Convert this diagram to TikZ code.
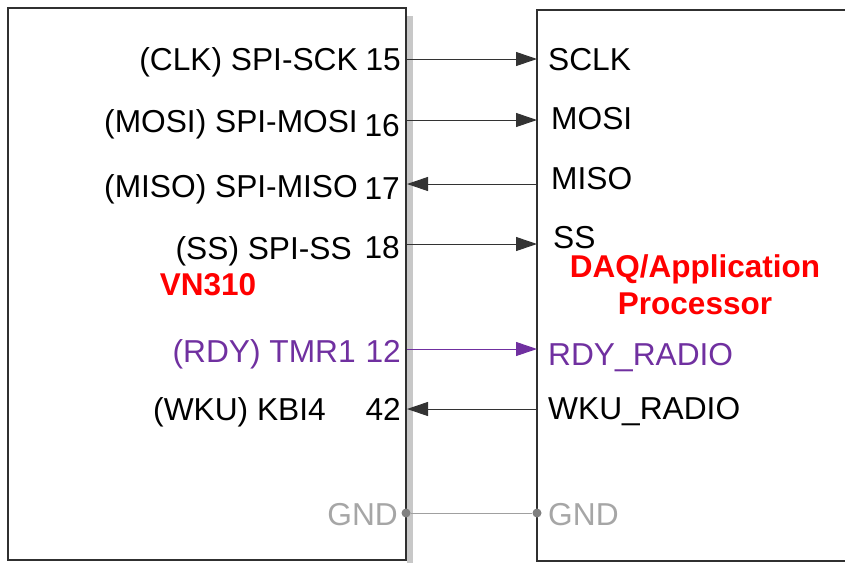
\documentclass[tikz,border=0pt]{standalone}
\usepackage{fontspec}
\setmainfont{Liberation Sans}
\usetikzlibrary{arrows.meta}
\definecolor{pur}{HTML}{7030A0}
\definecolor{redt}{HTML}{FF0000}
\definecolor{gndtxt}{HTML}{A6A6A6}
\definecolor{gndline}{HTML}{A0A0A0}
\definecolor{gnddot}{HTML}{808080}
\definecolor{shadowc}{HTML}{C8C8C8}
\definecolor{boxc}{HTML}{303030}
\definecolor{connc}{HTML}{333333}
\begin{document}
\begin{tikzpicture}[x=1pt,y=-1pt,
  lbl/.style={inner sep=0pt,font=\fontsize{31.7}{36}\selectfont,text height=22.5pt,text depth=0pt},
  ttl/.style={inner sep=0pt,font=\fontsize{31.5}{37}\selectfont\bfseries,text=redt,align=center},
  boxline/.style={draw=boxc,line width=1.4pt},
  edgefill/.style={fill=boxc},
  conn/.style={draw=connc,line width=1pt},
  tipr/.style={-{Triangle[length=21pt,width=14pt]}},
  tipl/.style={{Triangle[length=21pt,width=14pt]}-},
  dot/.style={circle,fill=gnddot,inner sep=0pt,minimum size=9pt}]
\useasboundingbox (0,0) rectangle (845,563);
% shadow and boxes
\fill[shadowc] (407,16) rectangle (413,563);
\draw[boxline] (8,8) rectangle (406,560);
\fill[edgefill] (536.3,9.3) rectangle (845,10.7);
\fill[edgefill] (536.3,9.3) rectangle (537.7,561.7);
\fill[edgefill] (536.3,560.3) rectangle (845,561.7);
% left labels
\node[lbl,anchor=east] (n1) at (358,59) {(CLK) SPI-SCK};
\node[lbl,anchor=east] (p1) at (401,59) {15};
\node[lbl,anchor=east] (n2) at (358,121) {(MOSI) SPI-MOSI};
\node[lbl,anchor=east] (p2) at (400,125) {16};
\node[lbl,anchor=east] (n3) at (358,186) {(MISO) SPI-MISO};
\node[lbl,anchor=east] (p3) at (400,188) {17};
\node[lbl,anchor=east] (n4) at (352,248) {(SS) SPI-SS};
\node[lbl,anchor=east] (p4) at (400,247) {18};
\node[lbl,anchor=east,text=pur] (n5) at (356,351) {(RDY) TMR1};
\node[lbl,anchor=east,text=pur] (p5) at (401,351) {12};
\node[lbl,anchor=east] (n6) at (326,409) {(WKU) KBI4};
\node[lbl,anchor=east] (p6) at (401,409) {42};
\node[lbl,anchor=east,text=gndtxt] (g1) at (398,514) {GND};
\node[ttl] (vn) at (208,285) {VN310};
% right labels
\node[lbl,anchor=west] (s1) at (548,59) {SCLK};
\node[lbl,anchor=west] (s2) at (551,118) {MOSI};
\node[lbl,anchor=west] (s3) at (551,178) {MISO};
\node[lbl,anchor=west] (s4) at (553,237) {SS};
\node[lbl,anchor=west,text=pur] (s5) at (548,354) {RDY\_RADIO};
\node[lbl,anchor=west] (s6) at (548,408) {WKU\_RADIO};
\node[lbl,anchor=west,text=gndtxt] (g2) at (548,514) {GND};
\node[ttl] (daq) at (695,285) {DAQ/Application\\Processor};
% connector end points
\coordinate (a1) at (407,59);  \coordinate (b1) at (537,59);
\coordinate (a2) at (407,120); \coordinate (b2) at (537,120);
\coordinate (a3) at (407,184); \coordinate (b3) at (537,184);
\coordinate (a4) at (407,244); \coordinate (b4) at (537,244);
\coordinate (a5) at (407,349); \coordinate (b5) at (537,349);
\coordinate (a6) at (407,409); \coordinate (b6) at (537,409);
\node[dot] (d1) at (406,513) {};
\node[dot] (d2) at (537,513) {};
% connectors
\draw[conn,tipr] (a1) -- (b1);
\draw[conn,tipr] (a2) -- (b2);
\draw[conn,tipl] (a3) -- (b3);
\draw[conn,tipr] (a4) -- (b4);
\draw[conn,draw=pur,tipr,pur] (a5) -- (b5);
\draw[conn,tipl] (a6) -- (b6);
\draw[draw=gndline,line width=1pt] (d1) -- (d2);
\end{tikzpicture}
\end{document}
